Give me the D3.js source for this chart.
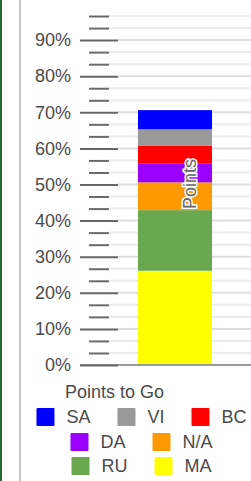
<!DOCTYPE html>
<html>
<head>
<meta charset="utf-8">
<script src="https://cdn.jsdelivr.net/npm/d3@7"></script>
<style>
  html, body { margin: 0; padding: 0; background: #fff; }
  svg { display: block; font-family: "Liberation Sans", Arial, sans-serif; }
</style>
</head>
<body>
<script>
var width = 251, height = 481;

// series, bottom of the stack first
var seriesNames = ['MA', 'RU', 'N/A', 'DA', 'BC', 'VI', 'SA'];
var seriesValues = [26.1, 16.8, 7.7, 5.3, 4.8, 4.6, 5.3];
var seriesColors = ['#ffff00', '#6aa84f', '#ff9900', '#9900ff', '#ff0000', '#999999', '#0000ff'];
var category = ['Points'];
var majorTicks = [0, 10, 20, 30, 40, 50, 60, 70, 80, 90];
var minorTicks = [3.33, 6.67, 13.33, 16.67, 23.33, 26.67, 33.33, 36.67, 43.33, 46.67,
                  53.33, 56.67, 63.33, 66.67, 73.33, 76.67, 83.33, 86.67, 93.33, 96.67];
var legendTitle = 'Points to Go';
var legendRows = [['SA', 'VI', 'BC'], ['DA', 'N/A'], ['RU', 'MA']];

var svg = d3.select('body').append('svg')
    .attr('width', width)
    .attr('height', height);

// frame lines on the left
svg.append('rect').attr('x', 0).attr('y', 0).attr('width', 2).attr('height', height).attr('fill', '#1f6b32');
svg.append('rect').attr('x', 19).attr('y', 0).attr('width', 2).attr('height', height).attr('fill', '#c6c6c6');

var y = d3.scaleLinear().domain([0, 100]).range([365, 4]);
var x = d3.scaleBand().domain(category).range([118, 232]).paddingInner(0).paddingOuter(0.27);

// gridlines
svg.append('g').selectAll('line')
    .data(minorTicks)
    .join('line')
    .attr('x1', 109).attr('x2', width)
    .attr('y1', d => y(d)).attr('y2', d => y(d))
    .attr('stroke', '#ececec').attr('stroke-width', 2);
svg.append('g').selectAll('line')
    .data(majorTicks.filter(d => d > 0))
    .join('line')
    .attr('x1', 118).attr('x2', width)
    .attr('y1', d => y(d)).attr('y2', d => y(d))
    .attr('stroke', '#dedede').attr('stroke-width', 2);

// stacked bar
var row = {cat: category[0]};
seriesNames.forEach((s, i) => row[s] = seriesValues[i]);
var stacked = d3.stack().keys(seriesNames)([row]);

svg.append('g').selectAll('rect')
    .data(stacked)
    .join('rect')
    .attr('x', x(category[0]))
    .attr('width', x.bandwidth())
    .attr('y', d => y(d[0][1]))
    .attr('height', d => y(d[0][0]) - y(d[0][1]))
    .attr('fill', (d, i) => seriesColors[i]);

// baseline
svg.append('line')
    .attr('x1', 80).attr('x2', width)
    .attr('y1', y(0)).attr('y2', y(0))
    .attr('stroke', '#9a9a9a').attr('stroke-width', 2);

// minor ticks
var minorAxis = d3.axisLeft(y).tickValues(minorTicks).tickSize(20).tickFormat('');
var gMinor = svg.append('g').attr('transform', 'translate(109,0)').call(minorAxis);
gMinor.select('.domain').remove();
gMinor.selectAll('line').attr('stroke', '#6a6a6a').attr('stroke-width', 2);

// major ticks + labels
var majorAxis = d3.axisLeft(y).tickValues(majorTicks).tickSize(38).tickPadding(9)
    .tickFormat(d => d + '%');
var gMajor = svg.append('g').attr('transform', 'translate(118,0)').call(majorAxis);
gMajor.select('.domain').remove();
gMajor.selectAll('line').attr('stroke', '#666').attr('stroke-width', 2);
gMajor.selectAll('text')
    .attr('font-size', 18)
    .attr('font-family', '"Liberation Sans", Arial, sans-serif')
    .attr('fill', '#4a4a4a');

// rotated label on the bar
svg.append('text')
    .attr('transform', 'translate(196,184) rotate(-90)')
    .attr('text-anchor', 'middle')
    .attr('font-size', 18)
    .attr('fill', '#666')
    .attr('stroke', '#fff')
    .attr('stroke-width', 3)
    .attr('paint-order', 'stroke')
    .text(category[0]);

// legend
var colorOf = d3.scaleOrdinal().domain(seriesNames).range(seriesColors);
svg.append('text')
    .attr('x', 65).attr('y', 398)
    .attr('font-size', 18)
    .attr('fill', '#4a4a4a')
    .text(legendTitle);

var sw = 18, gapText = 12, gapItem = 27, legendCenter = 141.5;
var rowY = [417, 442, 466];
legendRows.forEach(function(names, r) {
    var g = svg.append('g');
    var items = g.selectAll('g').data(names).join('g');
    items.append('rect')
        .attr('width', sw).attr('height', sw)
        .attr('y', -sw / 2)
        .attr('rx', 1)
        .attr('fill', d => colorOf(d));
    items.append('text')
        .attr('x', sw + gapText)
        .attr('dy', '0.36em')
        .attr('font-size', 18)
        .attr('fill', '#4a4a4a')
        .text(d => d);
    var xs = 0, widths = [];
    items.each(function() {
        var w = sw + gapText + d3.select(this).select('text').node().getComputedTextLength();
        widths.push(w);
    });
    var total = d3.sum(widths) + gapItem * (names.length - 1);
    items.attr('transform', function(d, i) {
        var tx = xs;
        xs += widths[i] + gapItem;
        return 'translate(' + tx + ',0)';
    });
    g.attr('transform', 'translate(' + (legendCenter - total / 2) + ',' + rowY[r] + ')');
});
</script>
</body>
</html>
